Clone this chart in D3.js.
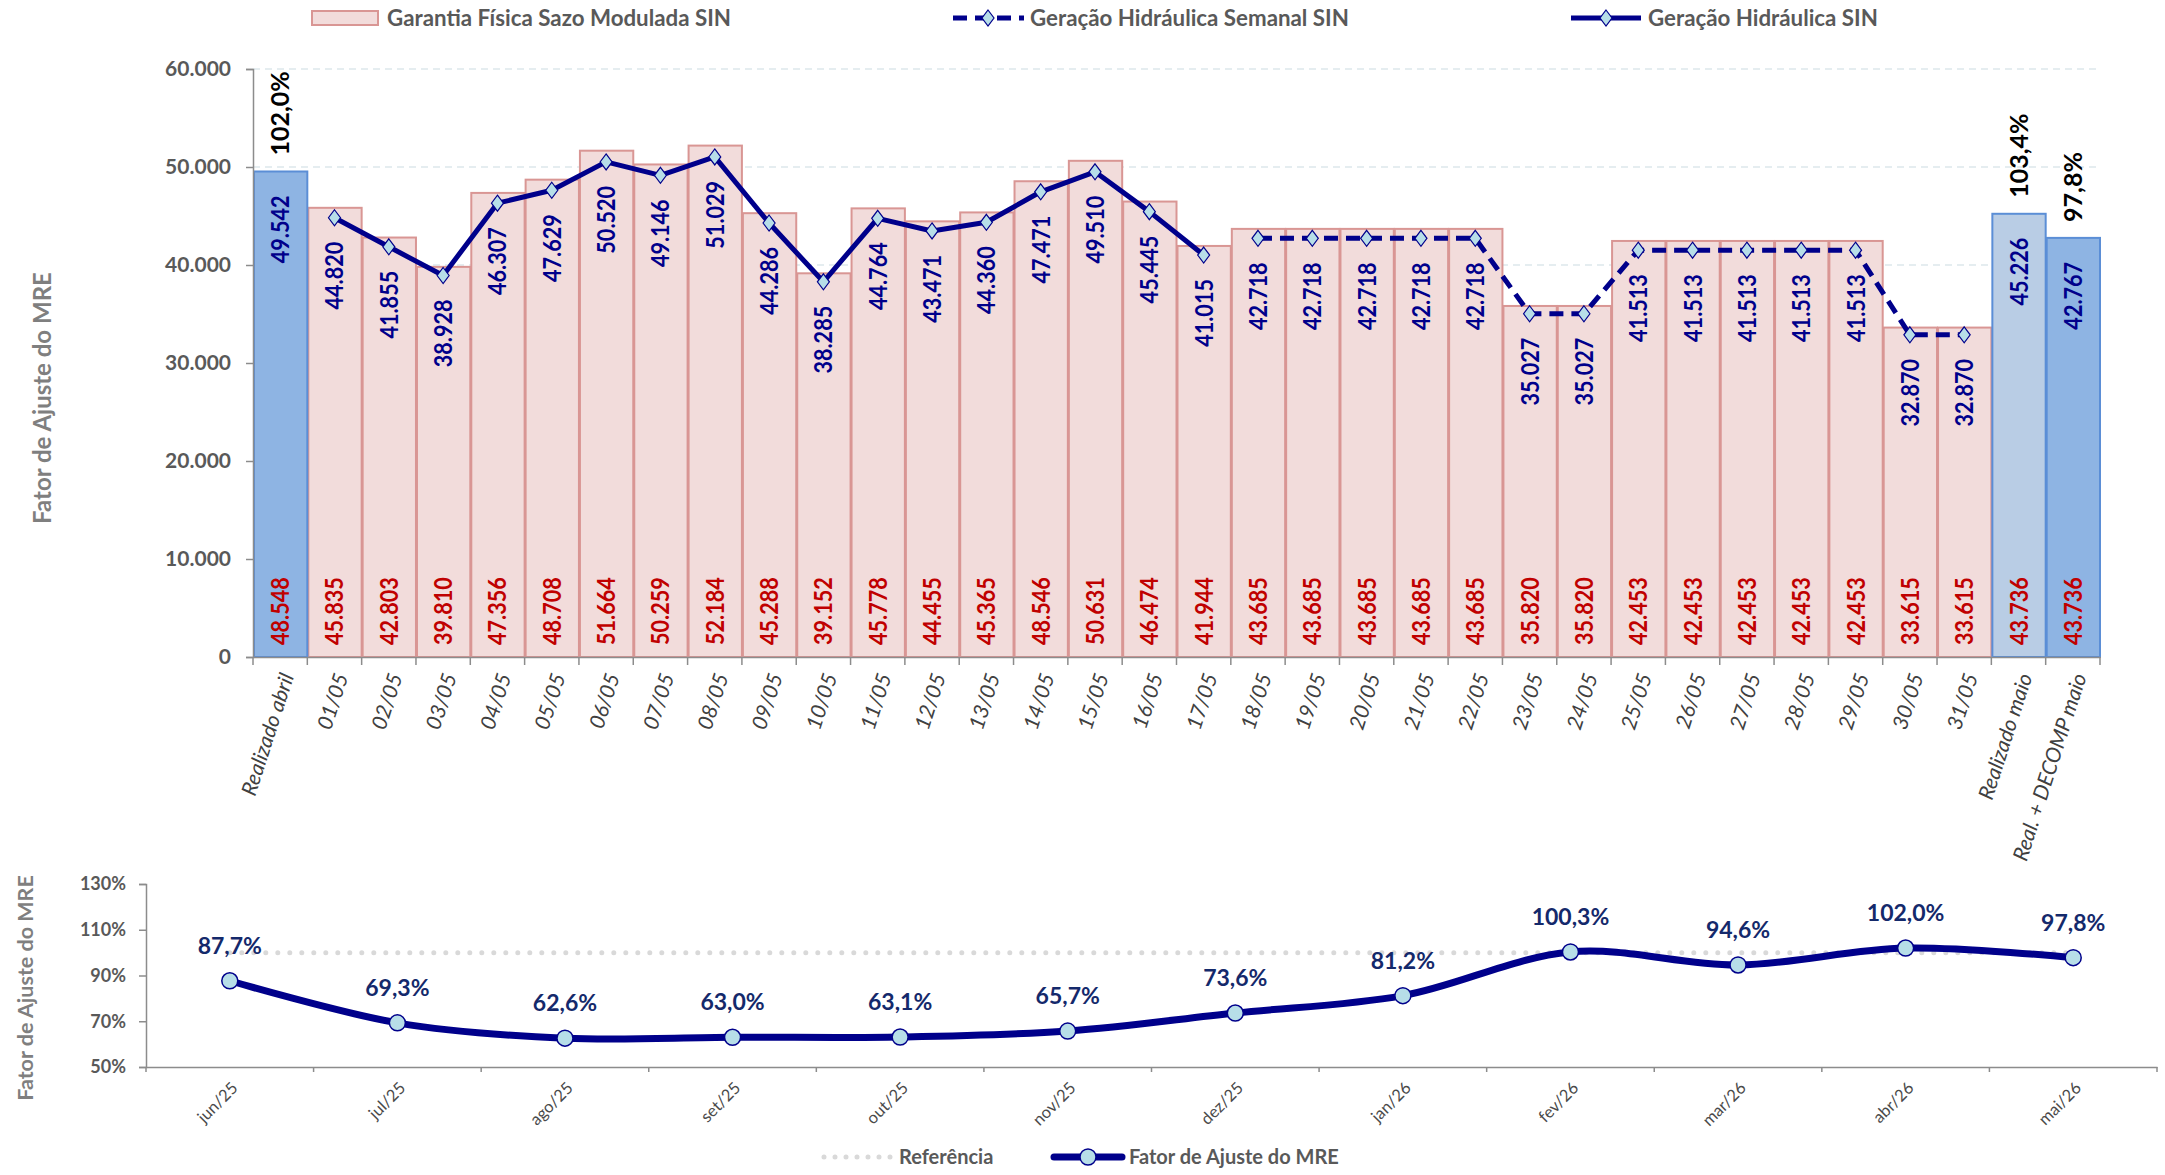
<!DOCTYPE html>
<html>
<head>
<meta charset="utf-8">
<script src="https://cdn.jsdelivr.net/npm/d3@7"></script>
<style>
  html, body { margin: 0; padding: 0; background: #ffffff; }
  svg { display: block; font-family: Lato, "Open Sans", sans-serif; }
</style>
</head>
<body>
<svg id="chart" width="2165" height="1175"></svg>
<script>
// ---- Data: daily hydro generation vs. seasonal physical guarantee (MWmed) ----
const categorias = [
  "Realizado abril",
  "01/05", "02/05", "03/05", "04/05", "05/05", "06/05", "07/05", "08/05", "09/05", "10/05",
  "11/05", "12/05", "13/05", "14/05", "15/05", "16/05", "17/05", "18/05", "19/05", "20/05",
  "21/05", "22/05", "23/05", "24/05", "25/05", "26/05", "27/05", "28/05", "29/05", "30/05",
  "31/05",
  "Realizado maio", "Real. + DECOMP maio"
];
const garantiaFisica = [
  48548,
  45835, 42803, 39810, 47356, 48708, 51664, 50259, 52184, 45288, 39152,
  45778, 44455, 45365, 48546, 50631, 46474, 41944, 43685, 43685, 43685,
  43685, 43685, 35820, 35820, 42453, 42453, 42453, 42453, 42453, 33615,
  33615,
  43736, 43736
];
const diasVerificados = [
  "01/05", "02/05", "03/05", "04/05", "05/05", "06/05", "07/05", "08/05", "09/05",
  "10/05", "11/05", "12/05", "13/05", "14/05", "15/05", "16/05", "17/05"
];
const geracaoVerificada = [
  44820, 41855, 38928, 46307, 47629, 50520, 49146, 51029, 44286,
  38285, 44764, 43471, 44360, 47471, 49510, 45445, 41015
];
const diasSemanais = [
  "18/05", "19/05", "20/05", "21/05", "22/05", "23/05", "24/05",
  "25/05", "26/05", "27/05", "28/05", "29/05", "30/05", "31/05"
];
const geracaoSemanal = [
  42718, 42718, 42718, 42718, 42718, 35027, 35027,
  41513, 41513, 41513, 41513, 41513, 32870, 32870
];
const realizadoCats = ["Realizado abril", "Realizado maio", "Real. + DECOMP maio"];
const realizadoValores = [49542, 45226, 42767];
const realizadoFator = [102.0, 103.4, 97.8];
const yTicksTopo = [0, 10000, 20000, 30000, 40000, 50000, 60000];

// ---- Data: monthly MRE adjustment factor (%) ----
const meses = ["jun/25", "jul/25", "ago/25", "set/25", "out/25", "nov/25",
               "dez/25", "jan/26", "fev/26", "mar/26", "abr/26", "mai/26"];
const fatorMRE = [87.7, 69.3, 62.6, 63.0, 63.1, 65.7, 73.6, 81.2, 100.3, 94.6, 102.0, 97.8];
const referencia = 100;
const yTicksBase = [50, 70, 90, 110, 130];

// ---- Formatting (pt-BR) ----
const ptBR = d3.formatLocale({ decimal: ",", thousands: ".", grouping: [3], currency: ["R$", ""] });
const fmtMil = ptBR.format(",.0f");
const fmtPct = v => ptBR.format(".1f")(v) + "%";

// ---- Colours ----
const NAVY = "#00008B";
const MARKER_FILL = "#B7DEE8";
const PINK_FILL = "#F2DCDB", PINK_STROKE = "#D99694";
const BLUE_FILL = "#8EB4E3", BLUE_LIGHT = "#B9CDE5", BLUE_STROKE = "#5B8ED6";
const AXIS = "#8C8C8C", TEXT_GREY = "#595959";

const svg = d3.select("#chart");

// =================== Upper chart ===================
const x = d3.scaleBand().domain(categorias).range([253, 2100]).padding(0);
const y = d3.scaleLinear().domain([0, 60000]).range([657, 69]);
const cx = c => x(c) + x.bandwidth() / 2;

const gTop = svg.append("g");

// gridlines
gTop.append("g").selectAll("line")
  .data(yTicksTopo.filter(v => v > 0))
  .join("line")
  .attr("x1", 253).attr("x2", 2100)
  .attr("y1", d => y(d)).attr("y2", d => y(d))
  .attr("stroke", "#DDE7EB").attr("stroke-width", 1.5)
  .attr("stroke-dasharray", "7,5");

// physical guarantee bars (days)
const dias = categorias.map((c, i) => ({ c, gf: garantiaFisica[i] }))
  .filter(d => !realizadoCats.includes(d.c));
gTop.append("g").selectAll("rect")
  .data(dias)
  .join("rect")
  .attr("x", d => x(d.c) + 1)
  .attr("width", x.bandwidth() - 1)
  .attr("y", d => y(d.gf))
  .attr("height", d => y(0) - y(d.gf))
  .attr("fill", PINK_FILL)
  .attr("stroke", PINK_STROKE)
  .attr("stroke-width", 2);

// realized generation bars
const realizados = realizadoCats.map((c, i) => ({ c, v: realizadoValores[i], f: realizadoFator[i] }));
gTop.append("g").selectAll("rect")
  .data(realizados)
  .join("rect")
  .attr("x", d => x(d.c) + 1)
  .attr("width", x.bandwidth() - 1)
  .attr("y", d => y(d.v))
  .attr("height", d => y(0) - y(d.v))
  .attr("fill", d => d.c === "Realizado maio" ? BLUE_LIGHT : BLUE_FILL)
  .attr("stroke", BLUE_STROKE)
  .attr("stroke-width", 2);

// axes
const yAxis = d3.axisLeft(y).tickValues(yTicksTopo).tickSize(7).tickPadding(15).tickFormat(fmtMil);
const gy = gTop.append("g").attr("transform", "translate(253,0)").call(yAxis);
gy.select(".domain").attr("stroke", AXIS).attr("stroke-width", 1.5);
gy.selectAll(".tick line").attr("stroke", AXIS).attr("stroke-width", 1.5);
gy.selectAll(".tick text")
  .attr("fill", TEXT_GREY).attr("font-size", 21).attr("font-weight", 700)
  .attr("font-family", "Lato, sans-serif");

const xAxis = d3.axisBottom(x).tickSize(0).tickPadding(0);
const gx = gTop.append("g").attr("transform", "translate(0,657)").call(xAxis);
gx.select(".domain").attr("stroke", AXIS).attr("stroke-width", 1.5);
gx.selectAll(".tick text")
  .attr("fill", "#404040").attr("font-size", 21).attr("font-style", "italic")
  .attr("font-family", "Lato, sans-serif")
  .attr("text-anchor", "end")
  .attr("dy", "0.35em")
  .attr("transform", "translate(7,17) rotate(-72)");
// boundary ticks
gTop.append("g").selectAll("line")
  .data(categorias.map(c => x(c)).concat([x.range()[1]]))
  .join("line")
  .attr("x1", d => d).attr("x2", d => d)
  .attr("y1", 657).attr("y2", 665)
  .attr("stroke", AXIS).attr("stroke-width", 1.5);

// generation lines
const linha = d3.line().x(d => cx(d.c)).y(d => y(d.v));
const ptsVerif = diasVerificados.map((c, i) => ({ c, v: geracaoVerificada[i] }));
const ptsSemanal = diasSemanais.map((c, i) => ({ c, v: geracaoSemanal[i] }));

gTop.append("path").datum(ptsVerif)
  .attr("d", linha).attr("fill", "none")
  .attr("stroke", NAVY).attr("stroke-width", 5).attr("stroke-linejoin", "round");
gTop.append("path").datum(ptsSemanal)
  .attr("d", linha).attr("fill", "none")
  .attr("stroke", NAVY).attr("stroke-width", 5)
  .attr("stroke-dasharray", "14,8");

const diamond = "M0,-8L6,0L0,8L-6,0Z";
gTop.append("g").selectAll("path")
  .data(ptsVerif.concat(ptsSemanal))
  .join("path")
  .attr("d", diamond)
  .attr("transform", d => `translate(${cx(d.c)},${y(d.v)})`)
  .attr("fill", MARKER_FILL).attr("stroke", NAVY).attr("stroke-width", 1.2);

// value labels (rotated)
function rotLabel(g, data, anchor, yFn, color, fmt) {
  g.selectAll(null)
    .data(data)
    .join("text")
    .attr("transform", d => `translate(${cx(d.c)},${yFn(d)}) rotate(-90) scale(0.9,1.04)`)
    .attr("text-anchor", anchor)
    .attr("dy", "0.36em")
    .attr("font-size", 24).attr("font-weight", 700)
    .attr("fill", color)
    .text(fmt);
}
const labels = gTop.append("g");
// generation values, just below each point / bar top
rotLabel(labels, ptsVerif.concat(ptsSemanal).concat(realizados), "end",
  d => y(d.v) + 24, NAVY, d => fmtMil(d.v));
// physical guarantee values, near the base
rotLabel(labels, categorias.map((c, i) => ({ c, v: garantiaFisica[i] })), "start",
  () => 645, "#C00000", d => fmtMil(d.v));

// adjustment-factor labels above realized bars
gTop.append("g").selectAll("text")
  .data(realizados)
  .join("text")
  .attr("transform", d => `translate(${cx(d.c)},${y(d.v) - 16}) rotate(-90)`)
  .attr("text-anchor", "start")
  .attr("dy", "0.36em")
  .attr("font-size", 25).attr("font-weight", 700)
  .attr("fill", "#000000")
  .text(d => fmtPct(d.f));

// y title
svg.append("text")
  .attr("transform", "translate(43,398) rotate(-90)")
  .attr("text-anchor", "middle").attr("dy", "0.35em")
  .attr("font-size", 24).attr("font-weight", 700).attr("fill", "#7F7F7F")
  .text("Fator de Ajuste do MRE");

// legend
const lg = svg.append("g").attr("font-size", 22.3).attr("font-weight", 700).attr("fill", TEXT_GREY);
lg.append("rect").attr("x", 312).attr("y", 11).attr("width", 66).attr("height", 14)
  .attr("fill", PINK_FILL).attr("stroke", PINK_STROKE).attr("stroke-width", 2);
lg.append("text").attr("x", 387).attr("y", 18).attr("dy", "0.35em")
  .text("Garantia Física Sazo Modulada SIN");
lg.append("line").attr("x1", 953).attr("x2", 1024).attr("y1", 18).attr("y2", 18)
  .attr("stroke", NAVY).attr("stroke-width", 5).attr("stroke-dasharray", "14,8");
lg.append("path").attr("d", diamond).attr("transform", "translate(988,18)")
  .attr("fill", MARKER_FILL).attr("stroke", NAVY).attr("stroke-width", 1.2);
lg.append("text").attr("x", 1030).attr("y", 18).attr("dy", "0.35em")
  .text("Geração Hidráulica Semanal SIN");
lg.append("line").attr("x1", 1571).attr("x2", 1641).attr("y1", 18).attr("y2", 18)
  .attr("stroke", NAVY).attr("stroke-width", 5);
lg.append("path").attr("d", diamond).attr("transform", "translate(1606,18)")
  .attr("fill", MARKER_FILL).attr("stroke", NAVY).attr("stroke-width", 1.2);
lg.append("text").attr("x", 1648).attr("y", 18).attr("dy", "0.35em")
  .text("Geração Hidráulica SIN");

// =================== Lower chart ===================
const xb = d3.scaleBand().domain(meses).range([146, 2157]).padding(0);
const yb = d3.scaleLinear().domain([50, 130]).range([1067, 884]);
const cxb = m => xb(m) + xb.bandwidth() / 2;
const gBot = svg.append("g");

// reference line (100%)
gBot.append("line")
  .attr("x1", cxb(meses[0])).attr("x2", cxb(meses[meses.length - 1]))
  .attr("y1", yb(referencia)).attr("y2", yb(referencia))
  .attr("stroke", "#D9D9D9").attr("stroke-width", 5)
  .attr("stroke-linecap", "round").attr("stroke-dasharray", "0,12");

const yAxisB = d3.axisLeft(yb).tickValues(yTicksBase).tickSize(7).tickPadding(13).tickFormat(d => d + "%");
const gyb = gBot.append("g").attr("transform", "translate(146,0)").call(yAxisB);
gyb.select(".domain").attr("stroke", AXIS).attr("stroke-width", 1.5);
gyb.selectAll(".tick line").attr("stroke", AXIS).attr("stroke-width", 1.5);
gyb.selectAll(".tick text")
  .attr("fill", TEXT_GREY).attr("font-size", 18).attr("font-weight", 700)
  .attr("font-family", "Lato, sans-serif");

const xAxisB = d3.axisBottom(xb).tickSize(0).tickPadding(0);
const gxb = gBot.append("g").attr("transform", "translate(0,1067)").call(xAxisB);
gxb.select(".domain").attr("stroke", AXIS).attr("stroke-width", 1.5);
gxb.selectAll(".tick text")
  .attr("fill", "#4A4A4A").attr("font-size", 16.5)
  .attr("font-family", "Lato, sans-serif")
  .attr("text-anchor", "end").attr("dy", "0.35em")
  .attr("transform", "translate(5,18) rotate(-45)");
gBot.append("g").selectAll("line")
  .data(meses.map(m => xb(m)).concat([xb.range()[1]]))
  .join("line")
  .attr("x1", d => d).attr("x2", d => d)
  .attr("y1", 1067).attr("y2", 1072)
  .attr("stroke", AXIS).attr("stroke-width", 1.5);

const ptsFator = meses.map((m, i) => ({ m, v: fatorMRE[i] }));
gBot.append("path").datum(ptsFator)
  .attr("d", d3.line().x(d => cxb(d.m)).y(d => yb(d.v)).curve(d3.curveCatmullRom.alpha(0.5)))
  .attr("fill", "none").attr("stroke", NAVY).attr("stroke-width", 7)
  .attr("stroke-linecap", "round");
gBot.append("g").selectAll("circle")
  .data(ptsFator)
  .join("circle")
  .attr("cx", d => cxb(d.m)).attr("cy", d => yb(d.v)).attr("r", 8)
  .attr("fill", MARKER_FILL).attr("stroke", NAVY).attr("stroke-width", 1.5);
gBot.append("g").selectAll("text")
  .data(ptsFator)
  .join("text")
  .attr("x", d => cxb(d.m)).attr("y", d => yb(d.v) - 35)
  .attr("dy", "0.35em").attr("text-anchor", "middle")
  .attr("font-size", 23).attr("font-weight", 700).attr("fill", "#14296B")
  .text(d => fmtPct(d.v));

svg.append("text")
  .attr("transform", "translate(25,988) rotate(-90)")
  .attr("text-anchor", "middle").attr("dy", "0.35em")
  .attr("font-size", 21.5).attr("font-weight", 700).attr("fill", "#7F7F7F")
  .text("Fator de Ajuste do MRE");

// lower legend
const lb = svg.append("g").attr("font-size", 20).attr("font-weight", 700).attr("fill", TEXT_GREY);
lb.append("line").attr("x1", 824).attr("x2", 891).attr("y1", 1157).attr("y2", 1157)
  .attr("stroke", "#D9D9D9").attr("stroke-width", 5)
  .attr("stroke-linecap", "round").attr("stroke-dasharray", "0,11");
lb.append("text").attr("x", 899).attr("y", 1157).attr("dy", "0.35em").text("Referência");
lb.append("line").attr("x1", 1054).attr("x2", 1122).attr("y1", 1157).attr("y2", 1157)
  .attr("stroke", NAVY).attr("stroke-width", 7).attr("stroke-linecap", "round");
lb.append("circle").attr("cx", 1088).attr("cy", 1157).attr("r", 8)
  .attr("fill", MARKER_FILL).attr("stroke", NAVY).attr("stroke-width", 1.5);
lb.append("text").attr("x", 1129).attr("y", 1157).attr("dy", "0.35em").text("Fator de Ajuste do MRE");
</script>
</body>
</html>
